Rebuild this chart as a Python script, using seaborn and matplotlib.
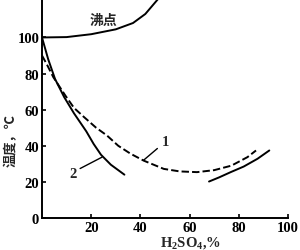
import matplotlib
matplotlib.use("Agg")
import matplotlib.pyplot as plt
import seaborn as sns
import pandas as pd

# ---- data ----
boil_x = [0, 10, 20, 30, 37, 42, 47]
boil_y = [100, 100.2, 101.8, 104.5, 108, 113, 121]

curve2a_x = [0, 2.5, 5.3, 9, 13, 18, 21, 24, 28, 33.5]
curve2a_y = [100, 88, 77, 67, 58, 48, 41, 35, 29.5, 24]

curve2b_x = [67.9, 72, 76.7, 82, 87.6, 92.4]
curve2b_y = [20.2, 22.5, 25.4, 28.5, 32.8, 37.4]

curve1_x = [0, 2, 4.6, 9.4, 13, 17, 22, 26.4, 31, 36, 41.3, 49.5, 56, 63, 70, 77, 83.5, 87]
curve1_y = [90, 85, 78, 68, 61, 56, 50, 45.7, 40, 35.6, 31.8, 27.2, 25.8, 25.4, 26.5, 29, 33.7, 37.4]

x_ticks = [20, 40, 60, 80, 100]
y_ticks = [0, 20, 40, 60, 80, 100]

sns.set_theme(style="white")
plt.rcParams["font.family"] = ["Liberation Serif", "Noto Sans CJK SC", "DejaVu Sans"]
plt.rcParams["mathtext.fontset"] = "custom"
plt.rcParams["mathtext.rm"] = "Liberation Serif:bold"
plt.rcParams["mathtext.it"] = "Liberation Serif:bold"
plt.rcParams["mathtext.bf"] = "Liberation Serif:bold"

fig = plt.figure(figsize=(3.0, 2.51), dpi=100)
ax = fig.add_axes([0.14, 0.1275, 0.82, 0.8725])

lw = 1.4
sns.lineplot(x=boil_x, y=boil_y, ax=ax, color="black", lw=lw, sort=False)
sns.lineplot(x=curve2a_x, y=curve2a_y, ax=ax, color="black", lw=lw, sort=False)
sns.lineplot(x=curve2b_x, y=curve2b_y, ax=ax, color="black", lw=lw, sort=False)
sns.lineplot(x=curve1_x, y=curve1_y, ax=ax, color="black", lw=lw, sort=False)
ax.lines[-1].set_dashes((3.8, 1.6))

ax.set_xlim(0, 100)
ax.set_ylim(0, 121.3)
ax.set_xticks(x_ticks)
ax.set_yticks(y_ticks)
ax.tick_params(direction="in", length=3, width=1.2, colors="black", labelsize=10.5, pad=2)
for t in ax.get_xticklabels() + ax.get_yticklabels():
    t.set_fontweight("bold")
    t.set_family("Liberation Serif")
ax.tick_params(axis="both", which="both", bottom=True, left=True)

for s in ["top", "right"]:
    ax.spines[s].set_visible(False)
for s in ["left", "bottom"]:
    ax.spines[s].set_color("black")
    ax.spines[s].set_linewidth(1.4)

ax.set_xlabel("H$_2$SO$_4$,%", fontsize=10.5, fontweight="bold", family="Liberation Serif")
ax.xaxis.set_label_coords((190 - 42) / 246, -0.072)
ax.set_ylabel("温度，℃", fontsize=9.5, fontweight="bold", family=["Noto Sans CJK SC", "DejaVu Sans"])
ax.yaxis.set_label_coords(-0.10, 0.36)

ax.text(25, 109.6, "沸点", fontsize=10, fontweight="bold", ha="center", va="center",
        family=["Noto Sans CJK SC", "DejaVu Sans"])

ax.plot([41.2, 46.9], [31.9, 38.5], color="black", lw=1.0)
ax.text(50.2, 42.5, "1", fontsize=10.5, fontweight="bold", ha="center", va="center", family="Liberation Serif")
ax.plot([15.5, 24.4], [27.4, 33.7], color="black", lw=1.0)
ax.text(12.7, 24.6, "2", fontsize=10.5, fontweight="bold", ha="center", va="center", family="Liberation Serif")

fig.savefig("out.png", dpi=100)
